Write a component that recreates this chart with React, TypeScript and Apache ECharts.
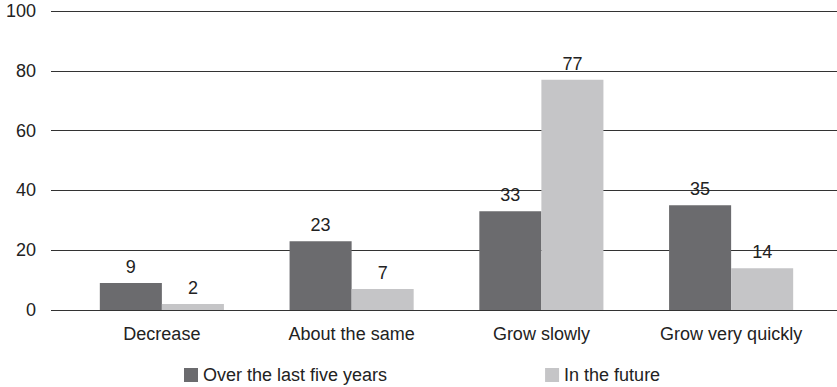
import React, { useEffect, useRef } from "react";
import * as echarts from "echarts";

const categories = ["Decrease", "About the same", "Grow slowly", "Grow very quickly"];
const pastFiveYears = [9, 23, 33, 35];
const inFuture = [2, 7, 77, 14];
const seriesNames = ["Over the last five years", "In the future"];

const FONT = "'Liberation Sans', Arial, Helvetica, sans-serif";

export default function App() {
  const ref = useRef<HTMLDivElement>(null);

  useEffect(() => {
    document.body.style.margin = "0";
    if (!ref.current) return;
    const chart = echarts.init(ref.current, undefined, { renderer: "svg" });
    const valueAxisBase = { type: "value", min: 0, max: 100, interval: 20 };
    const labelStyle = { show: true, position: "top", distance: 7, color: "#222", fontSize: 18, fontFamily: FONT };
    chart.setOption({
      animation: false,
      textStyle: { fontFamily: FONT },
      grid: [
        { left: 51, right: 0, top: 11, bottom: 77 },
        { left: 67, right: 11, top: 11, bottom: 77 },
      ],
      xAxis: [
        { type: "category", gridIndex: 0, data: categories, show: false },
        {
          type: "category",
          gridIndex: 1,
          data: categories,
          axisLine: { show: false },
          axisTick: { show: false },
          axisLabel: { color: "#222", fontSize: 18, margin: 15, fontFamily: FONT },
        },
      ],
      yAxis: [
        {
          ...valueAxisBase,
          gridIndex: 0,
          axisLine: { show: false },
          axisTick: { show: false },
          axisLabel: { color: "#222", fontSize: 18, margin: 15, fontFamily: FONT },
          splitLine: { show: true, lineStyle: { color: "#333", width: 1 } },
        },
        { ...valueAxisBase, gridIndex: 1, show: false, splitLine: { show: false } },
      ],
      legend: {
        top: 366,
        left: 184,
        padding: 0,
        itemWidth: 14,
        itemHeight: 14,
        itemGap: 158,
        icon: "rect",
        textStyle: { color: "#222", fontSize: 18, fontFamily: FONT },
        data: seriesNames,
      },
      series: [
        {
          name: seriesNames[0],
          type: "bar",
          xAxisIndex: 1,
          yAxisIndex: 1,
          data: pastFiveYears,
          barGap: "0%",
          barCategoryGap: "34.6%",
          itemStyle: { color: "#6b6b6e" },
          label: labelStyle,
        },
        {
          name: seriesNames[1],
          type: "bar",
          xAxisIndex: 1,
          yAxisIndex: 1,
          data: inFuture,
          barGap: "0%",
          barCategoryGap: "34.6%",
          itemStyle: { color: "#c5c5c7" },
          label: labelStyle,
        },
      ],
    });
    return () => chart.dispose();
  }, []);

  return <div ref={ref} style={{ width: 837, height: 387 }} />;
}
